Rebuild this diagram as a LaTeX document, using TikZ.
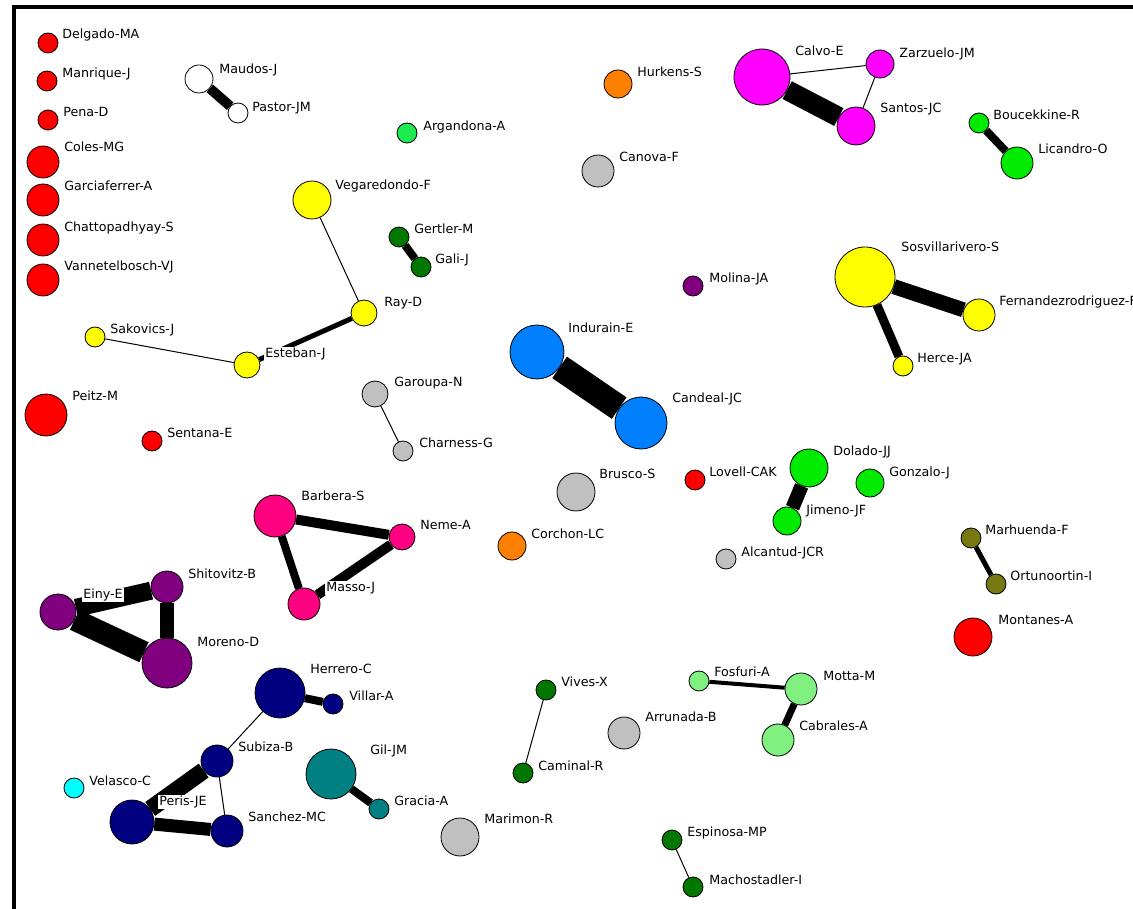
\documentclass[tikz,border=0pt]{standalone}
\usepackage{fontspec}
\setmainfont{DejaVu Sans}
\usepackage{tikz}
\usetikzlibrary{backgrounds}

\definecolor{cRed}{RGB}{255,0,0}
\definecolor{cYellow}{RGB}{255,255,0}
\definecolor{cDkGreen}{RGB}{0,120,0}
\definecolor{cGreen}{RGB}{0,235,0}
\definecolor{cSpring}{RGB}{30,235,80}
\definecolor{cLtGreen}{RGB}{128,240,128}
\definecolor{cOrange}{RGB}{255,128,0}
\definecolor{cGray}{RGB}{192,192,192}
\definecolor{cMagenta}{RGB}{255,0,255}
\definecolor{cPurple}{RGB}{128,0,128}
\definecolor{cBlue}{RGB}{0,128,255}
\definecolor{cPink}{RGB}{255,0,128}
\definecolor{cOlive}{RGB}{120,120,16}
\definecolor{cNavy}{RGB}{0,0,128}
\definecolor{cTeal}{RGB}{0,128,128}
\definecolor{cCyan}{RGB}{0,255,255}

\tikzset{
  au/.style 2 args={circle, draw=black, line width=0.6pt, fill=#1, inner sep=0pt, minimum size=#2*1.5pt},
  lbl/.style={anchor=west, fill=white, inner sep=0.8pt, text height=7pt, text depth=2pt,
    font=\fontsize{9.5}{11}\selectfont},
  lk/.style={line width=#1*0.75pt, black}
}

\begin{document}
\begin{tikzpicture}[x=0.75pt, y=-0.75pt]
        \useasboundingbox (0,0) rectangle (1133,909);
        % window frame
        \draw[line width=3pt] (1140,7) -- (13.5,7) -- (13.5,915);

        % single red authors (left column)
        \node[au={cRed}{10}] (delgado) at (48,43) {};
        \node[lbl] (delgado-l) at (61,35) {Delgado-MA};
        \node[au={cRed}{10}] (manrique) at (47,81) {};
        \node[lbl] (manrique-l) at (61,74) {Manrique-J};
        \node[au={cRed}{10}] (pena) at (48,120) {};
        \node[lbl] (pena-l) at (62,113) {Pena-D};
        \node[au={cRed}{16}] (coles) at (43,162) {};
        \node[lbl] (coles-l) at (63,148) {Coles-MG};
        \node[au={cRed}{16}] (garciaferrer) at (43,200) {};
        \node[lbl] (garciaferrer-l) at (63,187) {Garciaferrer-A};
        \node[au={cRed}{16}] (chatto) at (43,240) {};
        \node[lbl] (chatto-l) at (63,228) {Chattopadhyay-S};
        \node[au={cRed}{16}] (vannetel) at (43,280) {};
        \node[lbl] (vannetel-l) at (63,267) {Vannetelbosch-VJ};
        \node[au={cRed}{21}] (peitz) at (46,415) {};
        \node[lbl] (peitz-l) at (71,397) {Peitz-M};
        \node[au={cRed}{10}] (sentana) at (152,441) {};
        \node[lbl] (sentana-l) at (166,434) {Sentana-E};

        % Maudos - Pastor
        \node[au={white}{14}] (maudos) at (199,79) {};
        \node[lbl] (maudos-l) at (218,70) {Maudos-J};
        \node[au={white}{10}] (pastor) at (238,113) {};
        \node[lbl] (pastor-l) at (251,108) {Pastor-JM};

        % Vegaredondo / Ray / Esteban / Sakovics
        \node[au={cYellow}{19}] (vegaredondo) at (312,200) {};
        \node[lbl] (vegaredondo-l) at (334,186) {Vegaredondo-F};
        \node[au={cYellow}{13}] (ray) at (364,313) {};
        \node[lbl] (ray-l) at (383,303) {Ray-D};
        \node[au={cYellow}{13}] (esteban) at (247,365) {};
        \node[lbl] (esteban-l) at (264,354) {Esteban-J};
        \node[au={cYellow}{10}] (sakovics) at (95,337) {};
        \node[lbl] (sakovics-l) at (109,330) {Sakovics-J};

        % Gertler - Gali, Argandona
        \node[au={cDkGreen}{10}] (gertler) at (399,237) {};
        \node[lbl] (gertler-l) at (413,230) {Gertler-M};
        \node[au={cDkGreen}{10}] (gali) at (421,267) {};
        \node[lbl] (gali-l) at (434,260) {Gali-J};
        \node[au={cSpring}{10}] (argandona) at (407,133) {};
        \node[lbl] (argandona-l) at (422,127) {Argandona-A};

        % Hurkens, Canova, Molina
        \node[au={cOrange}{14}] (hurkens) at (618,84) {};
        \node[lbl] (hurkens-l) at (636,73) {Hurkens-S};
        \node[au={cGray}{16}] (canova) at (598,171) {};
        \node[lbl] (canova-l) at (618,158) {Canova-F};
        \node[au={cPurple}{10}] (molina) at (693,286) {};
        \node[lbl] (molina-l) at (708,279) {Molina-JA};

        % Calvo / Zarzuelo / Santos
        \node[au={cMagenta}{28}] (calvo) at (762,77) {};
        \node[lbl] (calvo-l) at (794,52) {Calvo-E};
        \node[au={cMagenta}{14}] (zarzuelo) at (880,64) {};
        \node[lbl] (zarzuelo-l) at (898,54) {Zarzuelo-JM};
        \node[au={cMagenta}{19}] (santos) at (856,126) {};
        \node[lbl] (santos-l) at (879,109) {Santos-JC};

        % Boucekkine - Licandro
        \node[au={cGreen}{10}] (boucekkine) at (979,123) {};
        \node[lbl] (boucekkine-l) at (992,116) {Boucekkine-R};
        \node[au={cGreen}{16}] (licandro) at (1017,163) {};
        \node[lbl] (licandro-l) at (1037,150) {Licandro-O};

        % Sosvillarivero / Fernandezrodriguez / Herce
        \node[au={cYellow}{30}] (sosvilla) at (865,277) {};
        \node[lbl] (sosvilla-l) at (900,248) {Sosvillarivero-S};
        \node[au={cYellow}{16}] (fernandez) at (979,315) {};
        \node[lbl] (fernandez-l) at (998,302) {Fernandezrodriguez-F};
        \node[au={cYellow}{10}] (herce) at (903,366) {};
        \node[lbl] (herce-l) at (916,359) {Herce-JA};

        % Garoupa - Charness
        \node[au={cGray}{13}] (garoupa) at (375,394) {};
        \node[lbl] (garoupa-l) at (393,383) {Garoupa-N};
        \node[au={cGray}{10}] (charness) at (403,451) {};
        \node[lbl] (charness-l) at (418,444) {Charness-G};

        % Indurain - Candeal
        \node[au={cBlue}{27}] (indurain) at (537,352) {};
        \node[lbl] (indurain-l) at (567,329) {Indurain-E};
        \node[au={cBlue}{26}] (candeal) at (641,423) {};
        \node[lbl] (candeal-l) at (671,399) {Candeal-JC};

        % Brusco, Lovell, Corchon, Alcantud
        \node[au={cGray}{19}] (brusco) at (576,492) {};
        \node[lbl] (brusco-l) at (598,475) {Brusco-S};
        \node[au={cRed}{10}] (lovell) at (695,480) {};
        \node[lbl] (lovell-l) at (708,473) {Lovell-CAK};
        \node[au={cOrange}{14}] (corchon) at (512,546) {};
        \node[lbl] (corchon-l) at (530,535) {Corchon-LC};
        \node[au={cGray}{10}] (alcantud) at (726,559) {};
        \node[lbl] (alcantud-l) at (740,553) {Alcantud-JCR};

        % Dolado / Jimeno, Gonzalo
        \node[au={cGreen}{19}] (dolado) at (809,468) {};
        \node[lbl] (dolado-l) at (832,452) {Dolado-JJ};
        \node[au={cGreen}{14}] (jimeno) at (787,521) {};
        \node[lbl] (jimeno-l) at (805,511) {Jimeno-JF};
        \node[au={cGreen}{14}] (gonzalo) at (870,483) {};
        \node[lbl] (gonzalo-l) at (888,473) {Gonzalo-J};

        % Marhuenda - Ortunoortin, Montanes
        \node[au={cOlive}{10}] (marhuenda) at (971,538) {};
        \node[lbl] (marhuenda-l) at (984,531) {Marhuenda-F};
        \node[au={cOlive}{10}] (ortuno) at (996,584) {};
        \node[lbl] (ortuno-l) at (1009,577) {Ortunoortin-I};
        \node[au={cRed}{19}] (montanes) at (973,637) {};
        \node[lbl] (montanes-l) at (997,621) {Montanes-A};

        % Barbera / Neme / Masso
        \node[au={cPink}{21}] (barbera) at (275,516) {};
        \node[lbl] (barbera-l) at (300,497) {Barbera-S};
        \node[au={cPink}{13}] (neme) at (402,537) {};
        \node[lbl] (neme-l) at (419,526) {Neme-A};
        \node[au={cPink}{16}] (masso) at (304,604) {};
        \node[lbl] (masso-l) at (325,588) {Masso-J};

        % Einy / Shitovitz / Moreno
        \node[au={cPurple}{18}] (einy) at (58,612) {};
        \node[lbl] (einy-l) at (82,595) {Einy-E};
        \node[au={cPurple}{16}] (shitovitz) at (167,587) {};
        \node[lbl] (shitovitz-l) at (187,575) {Shitovitz-B};
        \node[au={cPurple}{25}] (moreno) at (167,663) {};
        \node[lbl] (moreno-l) at (196,643) {Moreno-D};

        % Herrero / Villar / Subiza / Peris / Sanchez, Velasco
        \node[au={cNavy}{25}] (herrero) at (280,693) {};
        \node[lbl] (herrero-l) at (309,670) {Herrero-C};
        \node[au={cNavy}{10}] (villar) at (333,704) {};
        \node[lbl] (villar-l) at (348,697) {Villar-A};
        \node[au={cNavy}{16}] (subiza) at (217,761) {};
        \node[lbl] (subiza-l) at (237,748) {Subiza-B};
        \node[au={cNavy}{22}] (peris) at (132,822) {};
        \node[lbl] (peris-l) at (158,802) {Peris-JE};
        \node[au={cNavy}{16}] (sanchez) at (227,831) {};
        \node[lbl] (sanchez-l) at (247,818) {Sanchez-MC};
        \node[au={cCyan}{10}] (velasco) at (74,788) {};
        \node[lbl] (velasco-l) at (88,782) {Velasco-C};

        % Gil - Gracia
        \node[au={cTeal}{25}] (gil) at (331,774) {};
        \node[lbl] (gil-l) at (369,751) {Gil-JM};
        \node[au={cTeal}{10}] (gracia) at (379,809) {};
        \node[lbl] (gracia-l) at (393,802) {Gracia-A};

        % Vives - Caminal, Arrunada, Marimon
        \node[au={cDkGreen}{10}] (vives) at (546,690) {};
        \node[lbl] (vives-l) at (560,683) {Vives-X};
        \node[au={cDkGreen}{10}] (caminal) at (523,773) {};
        \node[lbl] (caminal-l) at (537,767) {Caminal-R};
        \node[au={cGray}{16}] (arrunada) at (624,733) {};
        \node[lbl] (arrunada-l) at (644,718) {Arrunada-B};
        \node[au={cGray}{19}] (marimon) at (460,837) {};
        \node[lbl] (marimon-l) at (483,820) {Marimon-R};

        % Fosfuri / Motta / Cabrales
        \node[au={cLtGreen}{10}] (fosfuri) at (699,681) {};
        \node[lbl] (fosfuri-l) at (713,673) {Fosfuri-A};
        \node[au={cLtGreen}{16}] (motta) at (801,689) {};
        \node[lbl] (motta-l) at (822,677) {Motta-M};
        \node[au={cLtGreen}{16}] (cabrales) at (778,740) {};
        \node[lbl] (cabrales-l) at (798,727) {Cabrales-A};

        % Espinosa - Machostadler
        \node[au={cDkGreen}{10}] (espinosa) at (672,840) {};
        \node[lbl] (espinosa-l) at (686,833) {Espinosa-MP};
        \node[au={cDkGreen}{10}] (macho) at (693,887) {};
        \node[lbl] (macho-l) at (708,881) {Machostadler-I};

        % Links (under nodes and labels)
        \begin{scope}[on background layer]
          \fill[white] (0,0) rectangle (1133,909);
          \draw[lk=10] (maudos) -- (pastor);
          \draw[lk=1] (vegaredondo) -- (ray);
          \draw[lk=5] (ray) -- (esteban);
          \draw[lk=1] (sakovics) -- (esteban);
          \draw[lk=8] (gertler) -- (gali);
          \draw[lk=20] (calvo) -- (santos);
          \draw[lk=1] (calvo) -- (zarzuelo);
          \draw[lk=1] (zarzuelo) -- (santos);
          \draw[lk=8] (boucekkine) -- (licandro);
          \draw[lk=15] (sosvilla) -- (fernandez);
          \draw[lk=9] (sosvilla) -- (herce);
          \draw[lk=1] (garoupa) -- (charness);
          \draw[lk=26] (indurain) -- (candeal);
          \draw[lk=14] (dolado) -- (jimeno);
          \draw[lk=5] (marhuenda) -- (ortuno);
          \draw[lk=10] (barbera) -- (neme);
          \draw[lk=8] (barbera) -- (masso);
          \draw[lk=10] (neme) -- (masso);
          \draw[lk=18] (einy) -- (shitovitz);
          \draw[lk=22] (einy) -- (moreno);
          \draw[lk=14] (shitovitz) -- (moreno);
          \draw[lk=8] (herrero) -- (villar);
          \draw[lk=1] (herrero) -- (subiza);
          \draw[lk=17] (subiza) -- (peris);
          \draw[lk=13] (peris) -- (sanchez);
          \draw[lk=1] (subiza) -- (sanchez);
          \draw[lk=8] (gil) -- (gracia);
          \draw[lk=1] (vives) -- (caminal);
          \draw[lk=4] (fosfuri) -- (motta);
          \draw[lk=7] (motta) -- (cabrales);
          \draw[lk=1] (espinosa) -- (macho);
        \end{scope}
    \end{tikzpicture}
\end{document}
